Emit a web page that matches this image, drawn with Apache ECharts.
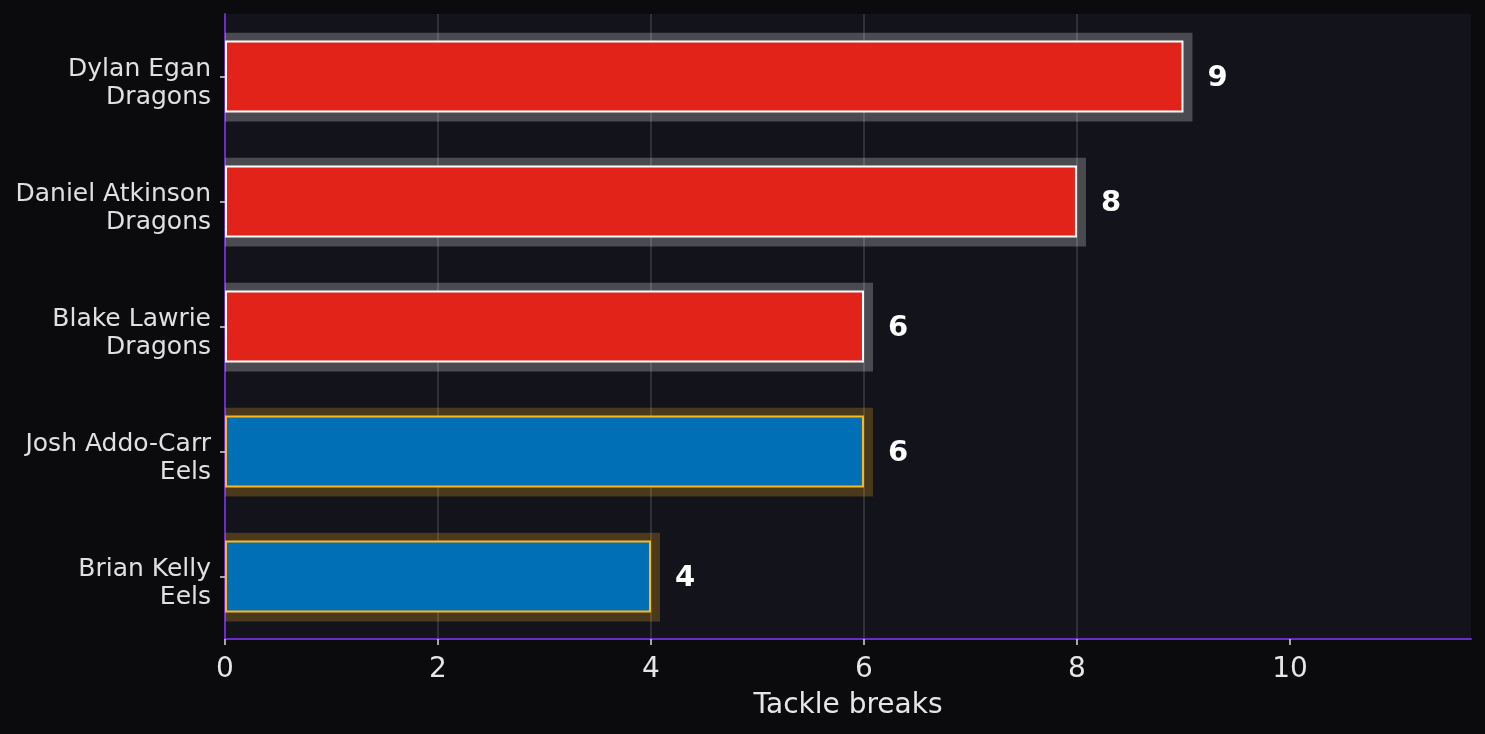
<!DOCTYPE html>
<html>
<head>
<meta charset="utf-8">
<script src="https://cdn.jsdelivr.net/npm/echarts@6/dist/echarts.min.js"></script>
<style>
html,body{margin:0;padding:0;background:#0b0b0e;}
#chart{width:1485px;height:734px;}
</style>
</head>
<body>
<div id="chart"></div>
<script>
const players = ['Dylan Egan', 'Daniel Atkinson', 'Blake Lawrie', 'Josh Addo-Carr', 'Brian Kelly'];
const teams = ['Dragons', 'Dragons', 'Dragons', 'Eels', 'Eels'];
const tackleBreaks = [9, 8, 6, 6, 4];
const xTicks = [0, 2, 4, 6, 8, 10];
const xMax = 11.7;
const xLabel = 'Tackle breaks';

const teamFill = { Dragons: '#e2231a', Eels: '#006fb6' };
const teamEdge = { Dragons: '#ffffff', Eels: '#ffb81c' };
const teamGlow = { Dragons: 'rgba(255,255,255,0.235)', Eels: 'rgba(255,184,28,0.235)' };

const categories = players.map((p, i) => p + '\n' + teams[i]);
const font = 'DejaVu Sans';

const chart = echarts.init(document.getElementById('chart'));
chart.setOption({
  backgroundColor: '#0b0b0e',
  animation: false,
  grid: {
    left: 225, right: 14, top: 14, bottom: 95,
    show: true, backgroundColor: '#13141b', borderWidth: 0
  },
  xAxis: {
    type: 'value', min: 0, max: xMax, interval: 2,
    name: xLabel, nameLocation: 'middle', nameGap: 53,
    nameTextStyle: { color: '#e6e6e6', fontSize: 28, fontFamily: font },
    axisLine: { show: true, lineStyle: { color: '#6a2bc6', width: 2 } },
    axisTick: { show: true, length: 6, customValues: xTicks, lineStyle: { color: '#d8d8d8', width: 1.5 } },
    axisLabel: { customValues: xTicks, color: '#e6e6e6', fontSize: 28, fontFamily: font, margin: 17 },
    splitLine: { show: true, showMinLine: false, showMaxLine: false, lineStyle: { color: 'rgba(255,255,255,0.17)', width: 1.5 } }
  },
  yAxis: [{
    type: 'category', data: categories, inverse: true,
    axisLine: { show: true, lineStyle: { color: '#6a2bc6', width: 2 } },
    axisTick: { show: true, alignWithLabel: true, length: 5, lineStyle: { color: '#d8d8d8', width: 1.5 } },
    axisLabel: {
      margin: 14, align: 'right',
      formatter: function (v) {
        return '{s| }\n' + v.split('\n').map(t => '{n|' + t + '}').join('\n');
      },
      rich: {
        s: { fontSize: 2, lineHeight: 14 },
        n: { color: '#e0e0e0', fontSize: 25, lineHeight: 28, fontFamily: font, align: 'right' }
      }
    },
    splitLine: { show: false }
  }],
  series: [
    {
      type: 'custom',
      z: 1,
      clip: true,
      renderItem: function (params, api) {
        const idx = api.value(0);
        const v = api.value(1);
        const start = api.coord([0, idx]);
        const end = api.coord([v, idx]);
        const band = api.size([0, 1])[1];
        const h = band * 0.71;
        return {
          type: 'rect',
          shape: { x: start[0], y: start[1] - h / 2 + 0.5, width: end[0] - start[0] + 9, height: h },
          style: { fill: teamGlow[teams[idx]] }
        };
      },
      encode: { x: 1, y: 0 },
      data: tackleBreaks.map((v, i) => [i, v])
    },
    {
      type: 'bar',
      z: 2,
      barWidth: '57.5%',
      data: tackleBreaks.map((v, i) => ({
        value: v,
        itemStyle: { color: teamFill[teams[i]], borderColor: teamEdge[teams[i]], borderWidth: 2 }
      })),
      label: {
        show: true, position: 'right', distance: 24, offset: [0, 2],
        color: '#ffffff', fontSize: 29, fontWeight: 'bold', fontFamily: font
      }
    }
  ]
});
</script>
</body>
</html>
